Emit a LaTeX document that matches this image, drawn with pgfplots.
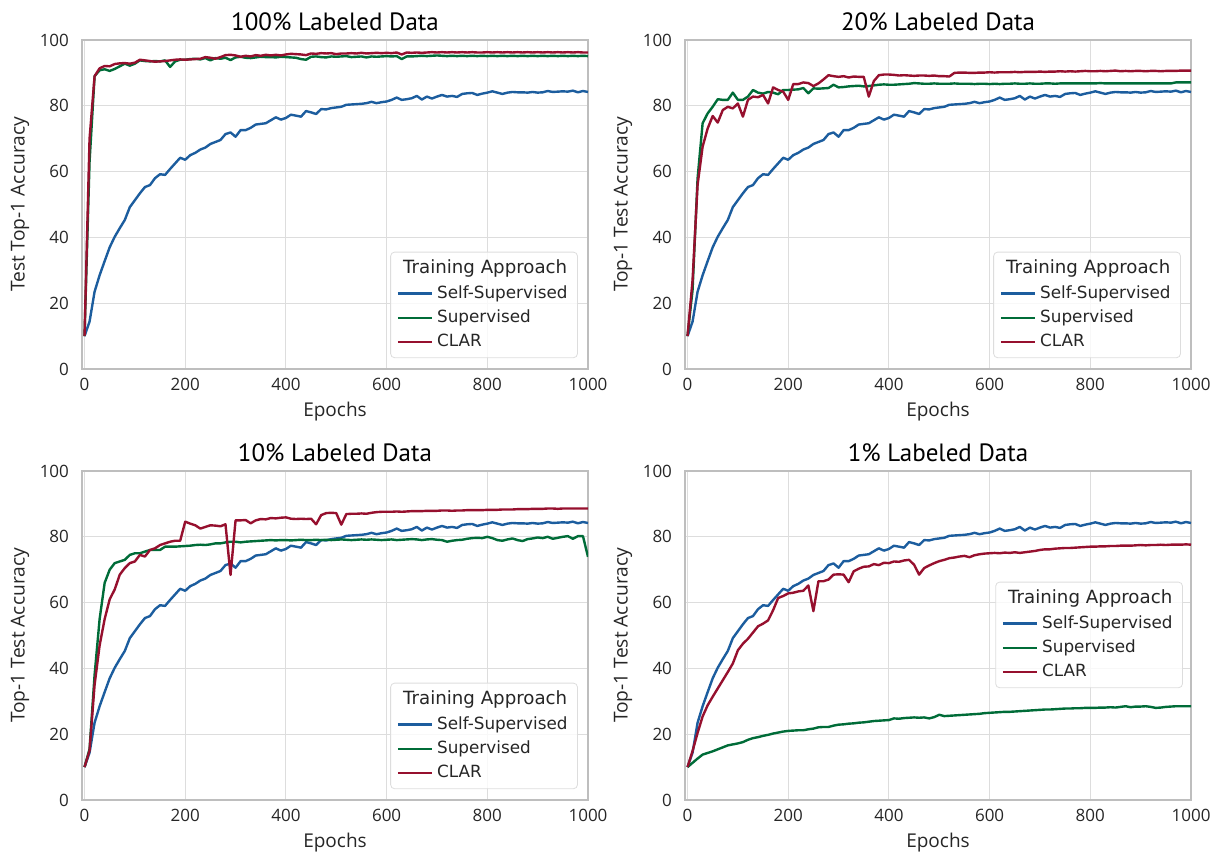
\documentclass[border=0pt]{standalone}
\usepackage{fontspec}
\setmainfont{DejaVu Sans}
\newfontfamily\osans{Open Sans}
\newfontfamily\tfont{PT Sans}
\usepackage{pgfplots}
\pgfplotsset{compat=1.18}
\usepackage{pgfplotstable}
\definecolor{cblue}{RGB}{28,93,158}
\definecolor{cgreen}{RGB}{0,108,56}
\definecolor{cred}{RGB}{150,16,46}
\definecolor{gridc}{RGB}{221,221,221}
\definecolor{framec}{RGB}{190,190,190}

\pgfplotstableread{
ep B G100 R100 G20 R20 G10 R10 G1 R1
0 10.0 10.0 10.0 10.0 10.0 10.0 10.0 10.0 10.0
10 14.4 63.0 70.0 24.0 27.0 15.5 15.0 11.3 14.9
20 23.5 89.0 89.0 58.0 56.0 38.0 35.0 12.6 20.4
30 28.5 90.8 91.4 74.7 67.6 55.0 47.0 13.8 25.4
40 32.8 91.1 92.1 77.7 73.1 66.0 55.0 14.3 28.8
50 37.0 90.6 92.0 79.7 76.9 70.0 61.0 14.8 31.4
60 40.2 91.2 92.7 82.0 74.9 72.0 64.0 15.4 33.9
70 42.8 92.0 92.9 81.8 78.7 72.5 68.5 16.0 36.4
80 45.3 92.8 93.0 81.8 79.7 73.0 70.5 16.6 38.9
90 49.2 92.2 92.8 84.0 79.2 74.5 72.0 16.9 41.5
100 51.3 92.8 93.1 81.8 80.7 75.0 72.5 17.2 45.5
110 53.4 93.8 94.0 81.8 76.7 75.0 74.5 17.6 47.5
120 55.3 93.6 93.8 82.8 81.8 75.5 74.0 18.3 49.0
130 55.9 93.5 93.6 84.8 82.8 76.0 76.0 18.8 50.9
140 58.0 93.6 93.4 84.0 82.6 76.0 76.5 19.1 52.8
150 59.2 93.5 93.5 83.7 83.3 76.0 77.5 19.5 53.6
160 59.0 93.8 93.6 84.2 80.7 77.0 78.0 19.8 54.6
170 60.8 91.8 93.8 84.0 85.6 77.0 78.5 20.2 57.7
180 62.5 93.5 94.0 83.5 84.8 77.0 78.8 20.5 61.4
190 64.2 94.0 94.1 84.8 84.3 77.1 78.8 20.8 62.0
200 63.6 94.0 94.0 84.8 81.8 77.2 84.6 21.0 62.8
210 65.0 94.2 94.1 84.9 86.6 77.3 84.0 21.1 63.0
220 65.7 94.3 94.2 85.0 86.6 77.5 83.5 21.2 63.4
230 66.7 94.1 94.3 85.4 87.1 77.6 82.5 21.2 63.6
240 67.3 94.5 94.8 83.8 86.9 77.5 83.0 21.5 65.2
250 68.4 93.8 94.6 85.3 86.0 77.7 83.5 21.7 57.4
260 69.0 94.5 94.3 85.2 86.8 78.0 83.4 22.1 66.5
270 69.6 94.3 94.8 85.3 88.0 78.0 83.2 22.2 66.5
280 71.4 94.6 95.4 85.4 89.3 78.3 83.8 22.2 67.0
290 71.9 93.9 95.5 86.4 89.0 78.5 68.4 22.6 68.5
300 70.6 94.7 95.3 85.6 88.8 78.5 85.0 22.9 68.6
310 72.6 94.9 94.9 85.7 89.0 78.3 85.0 23.0 68.5
320 72.6 94.6 95.2 85.9 88.6 78.5 85.1 23.2 66.2
330 73.3 94.5 95.0 86.0 88.9 78.6 84.1 23.3 69.5
340 74.3 94.7 95.4 86.1 88.8 78.7 85.0 23.5 70.3
350 74.5 94.9 95.2 85.9 88.8 78.8 85.4 23.6 70.9
360 74.7 94.8 95.5 86.0 82.8 78.9 85.3 23.8 71.0
370 75.6 94.8 95.3 86.2 87.5 79.0 85.7 24.0 71.7
380 76.5 94.7 95.5 86.4 89.3 78.9 85.6 24.1 71.4
390 75.8 94.9 95.3 86.5 89.5 79.0 85.8 24.2 72.1
400 76.3 94.8 95.6 86.4 89.5 79.0 85.9 24.3 72.0
410 77.3 94.7 95.8 86.4 89.4 78.9 85.5 24.8 72.5
420 77.0 94.6 95.7 86.5 89.2 79.0 85.4 24.7 72.4
430 76.7 94.2 95.6 86.6 89.3 79.1 85.5 24.9 72.8
440 78.4 94.0 95.4 86.7 89.2 79.0 85.4 25.0 73.0
450 78.0 94.9 95.9 86.9 89.1 79.0 85.5 25.1 71.5
460 77.5 95.0 95.8 86.8 89.2 79.1 83.8 25.0 68.5
470 79.0 94.8 96.0 86.7 89.2 79.0 86.6 25.1 70.5
480 78.9 94.7 95.9 86.7 89.1 79.1 87.2 24.8 71.3
490 79.3 95.0 96.0 86.8 89.2 79.0 87.3 25.2 72.0
500 79.5 94.9 95.7 86.7 89.0 79.1 87.2 25.9 72.6
510 79.7 95.0 95.9 86.7 89.0 79.2 83.7 25.5 73.0
520 80.3 95.1 95.9 86.7 88.9 79.1 86.9 25.6 73.5
530 80.4 94.8 96.0 86.8 90.0 79.0 87.0 25.7 73.7
540 80.5 94.9 95.9 86.7 90.1 79.1 87.0 25.8 74.0
550 80.6 95.0 96.1 86.7 90.1 79.2 87.1 25.9 74.2
560 80.8 94.7 95.9 86.7 90.0 79.1 87.0 26.0 73.8
570 81.2 95.0 96.0 86.6 90.0 79.2 87.3 26.1 74.4
580 80.8 94.9 96.1 86.7 90.1 79.1 87.5 26.2 74.7
590 81.1 95.0 96.0 86.7 90.1 79.0 87.6 26.4 74.9
600 81.3 95.1 96.1 86.6 90.2 79.1 87.6 26.5 75.0
610 81.8 95.0 96.0 86.7 90.1 79.2 87.6 26.6 75.1
620 82.5 95.1 96.2 86.6 90.2 79.0 87.7 26.7 75.0
630 81.8 94.2 95.6 86.7 90.2 79.1 87.6 26.8 75.2
640 82.0 95.0 96.2 86.7 90.2 79.2 87.7 26.8 75.1
650 82.3 95.0 96.1 86.8 90.3 79.3 87.8 26.9 75.3
660 83.0 95.1 96.2 86.7 90.2 79.2 87.8 27.0 75.1
670 81.9 95.2 96.1 86.7 90.3 79.0 87.8 27.1 75.3
680 82.8 95.1 96.2 86.8 90.3 79.2 87.9 27.2 75.5
690 82.2 95.2 96.3 86.7 90.3 79.3 87.9 27.3 75.7
700 82.8 95.3 96.2 86.7 90.4 79.1 87.9 27.4 76.0
710 83.3 95.2 96.3 86.8 90.3 79.0 88.0 27.5 76.2
720 82.8 95.1 96.2 86.8 90.4 78.5 88.0 27.5 76.2
730 83.0 95.2 96.3 86.7 90.4 78.8 87.9 27.6 76.4
740 82.7 95.1 96.2 86.8 90.5 79.0 88.0 27.7 76.5
750 83.6 95.2 96.3 86.8 90.4 79.1 88.0 27.8 76.6
760 83.8 95.1 96.2 86.8 90.5 79.4 88.1 27.8 76.6
770 83.9 95.2 96.3 86.8 90.4 79.6 88.1 27.9 76.7
780 83.3 95.1 96.2 86.8 90.5 79.7 88.1 27.9 76.8
790 83.7 95.2 96.2 86.8 90.6 79.6 88.1 28.0 76.9
800 84.0 95.1 96.3 86.8 90.5 80.0 88.2 28.0 77.0
810 84.4 95.2 96.2 86.8 90.5 79.6 88.2 28.0 77.0
820 84.0 95.1 96.3 86.9 90.6 79.0 88.2 28.1 77.1
830 83.6 95.2 96.2 86.8 90.5 78.8 88.3 28.1 77.1
840 84.0 95.1 96.3 86.8 90.6 79.2 88.3 28.2 77.2
850 84.2 95.2 96.2 86.8 90.7 79.5 88.3 28.1 77.2
860 84.1 95.1 96.3 86.8 90.5 79.0 88.4 28.3 77.3
870 84.1 95.2 96.2 86.8 90.6 78.7 88.4 28.5 77.3
880 84.0 95.1 96.3 86.8 90.5 79.3 88.4 28.2 77.3
890 84.2 95.2 96.2 86.8 90.6 79.5 88.5 28.4 77.4
900 84.0 95.1 96.3 86.8 90.6 79.8 88.5 28.4 77.5
910 84.1 95.2 96.2 86.8 90.5 79.6 88.5 28.5 77.4
920 84.5 95.1 96.3 86.8 90.6 80.0 88.6 28.3 77.5
930 84.2 95.2 96.2 86.8 90.6 79.4 88.6 28.0 77.5
940 84.3 95.1 96.3 86.8 90.5 79.7 88.5 28.1 77.6
950 84.4 95.2 96.2 86.8 90.6 80.0 88.6 28.3 77.5
960 84.3 95.1 96.3 86.8 90.6 80.2 88.6 28.4 77.6
970 84.6 95.2 96.2 87.1 90.6 79.4 88.6 28.5 77.6
980 84.1 95.1 96.3 87.1 90.7 80.2 88.6 28.5 77.6
990 84.5 95.2 96.2 87.1 90.7 80.2 88.6 28.5 77.7
1000 84.2 95.1 96.2 87.1 90.7 73.9 88.6 28.5 77.6
}\data

\pgfplotsset{
  panel/.style={
    width=253pt, height=164.5pt, scale only axis, anchor=south west,
    xmin=-5, xmax=1000, ymin=0, ymax=100,
    xtick={0,200,...,1000}, ytick={0,20,...,100},
    grid=major, major grid style={gridc, line width=0.5pt},
    axis line style={framec, line width=0.7pt},
    major tick length=0pt,
    /pgf/number format/assume math mode=true,
    /pgf/number format/1000 sep={},
    ticklabel style={font=\osans\fontsize{8.5}{10}\selectfont, text=black!85},
    yticklabel style={xshift=-3pt},
    xticklabel style={yshift=-1pt},
    every axis y label/.style={at={(axis description cs:-0.1225,0.5)}, rotate=90, anchor=center,
      font=\osans\fontsize{9.6}{11}\selectfont, text=black!85},
    every axis x label/.style={at={(axis description cs:0.5,-0.1307)}, anchor=center,
      font=\osans\fontsize{9.5}{11}\selectfont, text=black!85},
    title style={font=\tfont\fontsize{12.5}{14}\selectfont, yshift=-5pt},
    xlabel=Epochs,
    legend style={font=\fontsize{8.4}{10}\selectfont, text=black!85, draw=gridc, rounded corners=2pt,
      fill=white, fill opacity=0.8, text opacity=1, at={(0.98,0.033)}, anchor=south east,
      row sep=0.3pt, inner xsep=3pt, inner ysep=2pt},
    legend cell align=left,
    every axis plot/.append style={line width=1.2pt, line join=round},
  }
}
\newcommand{\legtitle}{\addlegendimage{empty legend}\addlegendentry{\hspace{-17pt}\fontsize{9.1}{11}\selectfont Training Approach}}

\begin{document}
\begin{tikzpicture}
\useasboundingbox (0,0) rectangle (609pt,428pt);
\begin{axis}[panel, at={(41pt,243.5pt)}, title={100\% Labeled Data}, ylabel={Test Top-1 Accuracy}]
\legtitle
\addplot[cblue] table[x=ep,y=B]{\data};\addlegendentry{Self-Supervised}
\addplot[cgreen] table[x=ep,y=G100]{\data};\addlegendentry{Supervised}
\addplot[cred] table[x=ep,y=R100]{\data};\addlegendentry{CLAR}
\end{axis}
\begin{axis}[panel, at={(342.5pt,243.5pt)}, title={20\% Labeled Data}, ylabel={Top-1 Test Accuracy}]
\legtitle
\addplot[cblue] table[x=ep,y=B]{\data};\addlegendentry{Self-Supervised}
\addplot[cgreen] table[x=ep,y=G20]{\data};\addlegendentry{Supervised}
\addplot[cred] table[x=ep,y=R20]{\data};\addlegendentry{CLAR}
\end{axis}
\begin{axis}[panel, at={(41pt,28pt)}, title={10\% Labeled Data}, ylabel={Top-1 Test Accuracy}]
\legtitle
\addplot[cblue] table[x=ep,y=B]{\data};\addlegendentry{Self-Supervised}
\addplot[cgreen] table[x=ep,y=G10]{\data};\addlegendentry{Supervised}
\addplot[cred] table[x=ep,y=R10]{\data};\addlegendentry{CLAR}
\end{axis}
\begin{axis}[panel, at={(342.5pt,28pt)}, title={1\% Labeled Data}, ylabel={Top-1 Test Accuracy},
  legend style={at={(0.984,0.34)}, anchor=south east}]
\legtitle
\addplot[cblue] table[x=ep,y=B]{\data};\addlegendentry{Self-Supervised}
\addplot[cgreen] table[x=ep,y=G1]{\data};\addlegendentry{Supervised}
\addplot[cred] table[x=ep,y=R1]{\data};\addlegendentry{CLAR}
\end{axis}
\end{tikzpicture}
\end{document}
